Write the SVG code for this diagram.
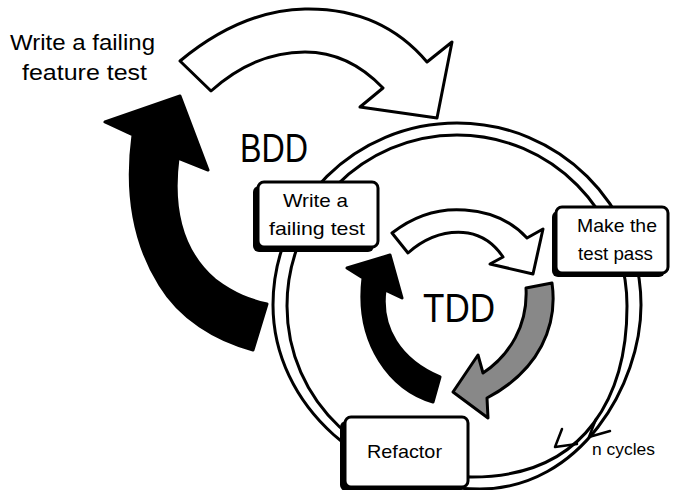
<svg xmlns="http://www.w3.org/2000/svg" width="674" height="490" viewBox="0 0 674 490">
<style>
.lbl{font-family:"Liberation Sans","DejaVu Sans",sans-serif;fill:#000}
.ring{fill:none;stroke:#000;stroke-width:3}
.arrow{stroke:#000;stroke-width:3;stroke-linejoin:round}
.shadow{fill:#000}
.box{fill:#fff;stroke:#000;stroke-width:3}
.chev{fill:none;stroke:#000;stroke-width:2.5;stroke-linecap:round;stroke-linejoin:round}
</style>
<rect width="674" height="490" fill="#fff"/>
<g id="connectors">
  <path class="ring" d="M457,123 C558.6,123 641,204.5 641,305 C641,385 580,489 480,489 C365,489 273,405 273,305 C273,204.5 355.4,123 457,123 Z"/>
  <path class="ring" d="M457,135 C550.9,135 627,211.6 627,306 C627,390 590,477 472,477 C365,477 287,400 287,306 C287,211.6 363.1,135 457,135 Z"/>
  <polyline class="chev" points="562,429 555,447 577,444"/>
  <polyline class="chev" points="596,419 589,437 610,431"/>
  <path class="arrow" fill="#fff" d="M180,61 C215,32 258,10 305,9 C360,8 400,30 427,62 L452,42 L437,118 L360,107 L383,88 C362,66 335,52 305,52 C270,52 240,65 211,91 Z"/>
  <path class="arrow" fill="#000" d="M180,96 L208,170 L178,158 C172,205 180,250 215,280 C235,295 250,300 267,304 L253,350 C215,340 180,318 160,285 C135,245 125,195 133,135 L105,122 Z"/>
  <path class="arrow" fill="#fff" d="M392,233 C415,215 440,208 465,210 C495,212 515,225 527,238 L543,229 L533,274 L490,264 L503,257 C495,245 485,236 468,233 C445,230 425,238 408,253 Z"/>
  <path class="arrow" fill="#888" d="M526,288 L552,283 C558,325 540,370 487,398 L488,418 L453,392 L478,355 L483,373 C510,355 528,325 526,288 Z"/>
  <path class="arrow" fill="#000" d="M390,255 L402,298 L385,290 C380,328 400,360 440,377 L433,402 C392,390 355,345 363,278 L347,268 Z"/>
</g>
<g id="node-feature-test">
  <text class="lbl" x="10" y="50" font-size="22" textLength="145" lengthAdjust="spacingAndGlyphs">Write a failing</text>
  <text class="lbl" x="22" y="80" font-size="22" textLength="125" lengthAdjust="spacingAndGlyphs">feature test</text>
</g>
<g id="node-bdd">
  <text class="lbl" x="240" y="162" font-size="41" textLength="68" lengthAdjust="spacingAndGlyphs">BDD</text>
</g>
<g id="node-tdd">
  <text class="lbl" x="423" y="322" font-size="40" textLength="72" lengthAdjust="spacingAndGlyphs">TDD</text>
</g>
<g id="node-write-test">
  <rect class="shadow" x="253" y="186" width="121" height="66" rx="6"/>
  <rect class="box" x="258" y="182" width="120" height="65" rx="6"/>
  <text class="lbl" x="283" y="207" font-size="19" textLength="65" lengthAdjust="spacingAndGlyphs">Write a</text>
  <text class="lbl" x="269" y="235" font-size="19" textLength="96" lengthAdjust="spacingAndGlyphs">failing test</text>
</g>
<g id="node-make-pass">
  <rect class="shadow" x="552" y="211" width="113" height="66" rx="6"/>
  <rect class="box" x="556" y="207" width="112" height="66" rx="6"/>
  <text class="lbl" x="577" y="232" font-size="19" textLength="80" lengthAdjust="spacingAndGlyphs">Make the</text>
  <text class="lbl" x="578" y="260" font-size="19" textLength="75" lengthAdjust="spacingAndGlyphs">test pass</text>
</g>
<g id="node-refactor">
  <rect class="shadow" x="340" y="421" width="124" height="70" rx="6"/>
  <rect class="box" x="345" y="417" width="123" height="70" rx="6"/>
  <text class="lbl" x="367" y="458" font-size="19" textLength="75" lengthAdjust="spacingAndGlyphs">Refactor</text>
</g>
<g id="label-n-cycles">
  <text class="lbl" x="592" y="455" font-size="17" textLength="63" lengthAdjust="spacingAndGlyphs">n cycles</text>
</g>
</svg>
